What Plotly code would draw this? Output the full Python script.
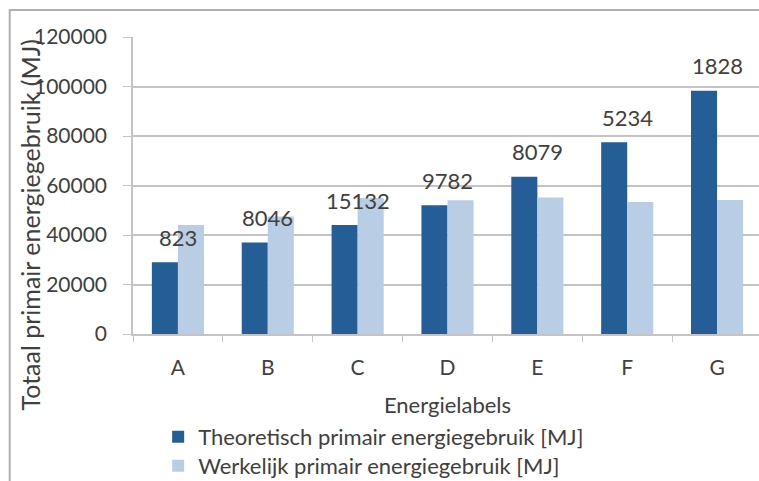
import plotly.graph_objects as go

categories = ["A", "B", "C", "D", "E", "F", "G"]
theoretisch = [29000, 37000, 44000, 52000, 63500, 77500, 98300]
werkelijk = [44000, 47500, 55000, 54000, 55200, 53300, 54100]
label_counts = ["823", "8046", "15132", "9782", "8079", "5234", "1828"]
y_ticks = [0, 20000, 40000, 60000, 80000, 100000, 120000]

FONT = "Lato"
TXT = "#404040"
DARK = "#255E96"
LIGHT = "#B9CDE5"
GRID = "#C4C4C4"

fig = go.Figure()
fig.add_trace(go.Bar(x=categories, y=theoretisch, name="Theoretisch primair energiegebruik [MJ]",
                     marker=dict(color=DARK, line=dict(width=0)), legend="legend"))
fig.add_trace(go.Bar(x=categories, y=werkelijk, name="Werkelijk primair energiegebruik [MJ]",
                     marker=dict(color=LIGHT, line=dict(width=0)), legend="legend2"))

for c, v, t in zip(categories, theoretisch, label_counts):
    fig.add_annotation(x=c, y=v, text=t, showarrow=False, yshift=25, yanchor="middle",
                       font=dict(family=FONT, size=22, color=TXT))

fig.add_annotation(xref="paper", yref="paper", x=-0.1645, y=0.367, text="Totaal primair energiegebruik (MJ)",
                   textangle=-90, showarrow=False, xanchor="center", yanchor="middle",
                   font=dict(family=FONT, size=25, color=TXT))

fig.add_shape(type="rect", xref="paper", yref="paper", x0=-0.196, y0=-0.6, x1=1.2, y1=1.091,
              line=dict(color="#B0B0B0", width=2), fillcolor="rgba(0,0,0,0)", layer="below")

legend_common = dict(x=0.04, xanchor="left", yanchor="middle", orientation="v",
                     font=dict(family=FONT, size=22, color=TXT), bgcolor="rgba(0,0,0,0)")

fig.update_layout(
    width=762, height=481,
    margin=dict(l=133, r=0, t=37, b=147, autoexpand=False),
    paper_bgcolor="white", plot_bgcolor="white",
    barmode="group", bargap=0.42, bargroupgap=0,
    font=dict(family=FONT, color=TXT),
    showlegend=True,
    legend=dict(y=-0.347, **legend_common),
    legend2=dict(y=-0.444, **legend_common),
    xaxis=dict(type="category", showgrid=False, showline=True, linecolor=GRID, linewidth=1.5,
               ticks="outside", tickson="boundaries", ticklen=6, tickcolor=GRID,
               tickfont=dict(family=FONT, size=21, color=TXT), ticklabelstandoff=14,
               title=dict(text="Energielabels", font=dict(family=FONT, size=22, color=TXT), standoff=20)),
    yaxis=dict(range=[0, 120000], tickvals=y_ticks, ticktext=[str(v) for v in y_ticks],
               showgrid=True, gridcolor=GRID, gridwidth=1.5, zeroline=False,
               showline=True, linecolor=GRID, linewidth=1.5,
               ticks="outside", ticklen=8, tickcolor=GRID,
               tickfont=dict(family=FONT, size=21, color=TXT), ticklabelstandoff=12),
)

fig.write_html("out.html", config={"displayModeBar": False},
               post_script="document.documentElement.style.overflow='hidden';document.body.style.margin='0';document.body.style.overflow='hidden';")
